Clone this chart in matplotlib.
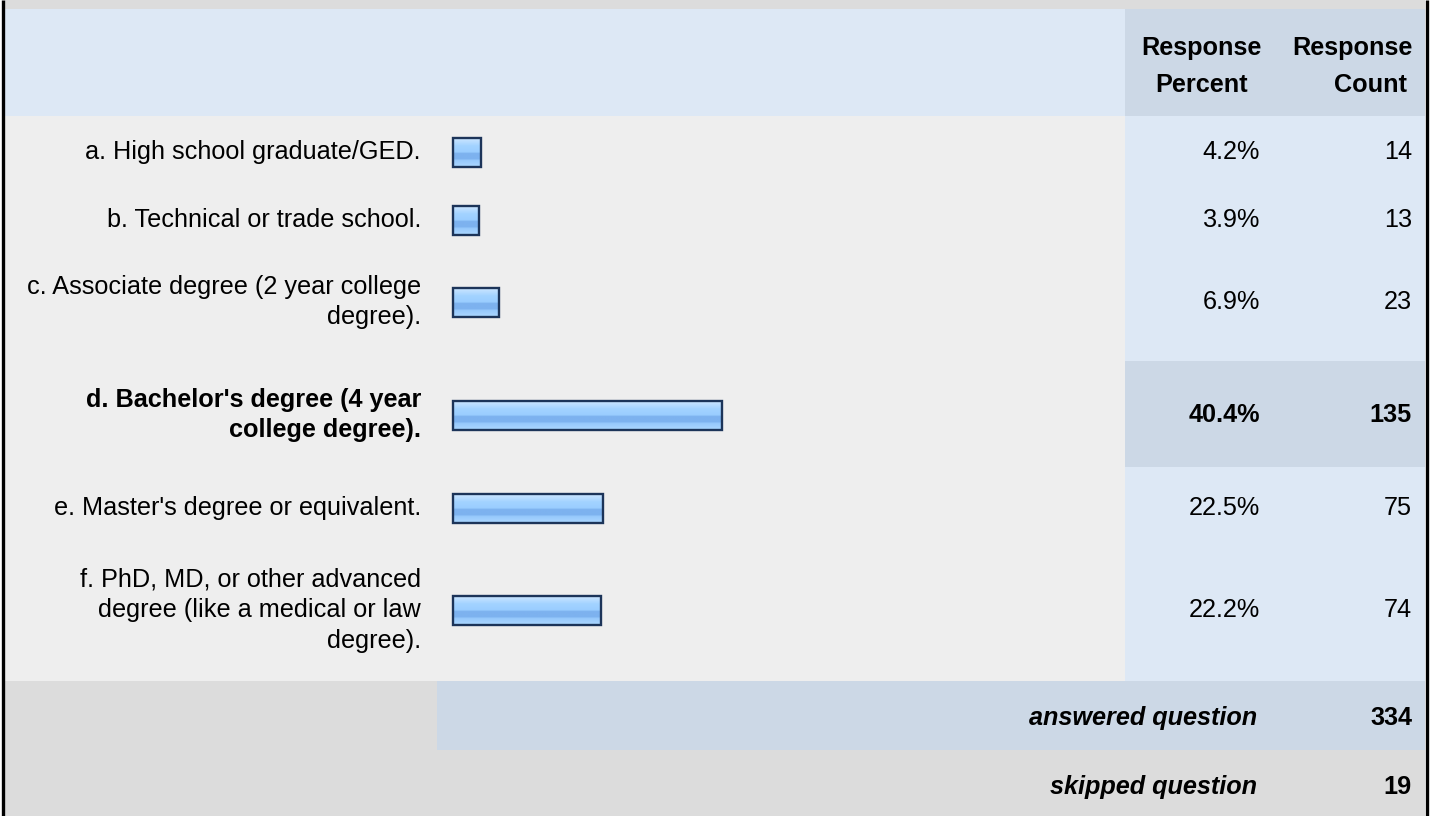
import numpy as np
import matplotlib
matplotlib.use('Agg')
import matplotlib.pyplot as plt
from matplotlib.patches import Rectangle
from matplotlib.colors import LinearSegmentedColormap

plt.rcParams['font.family'] = ['Liberation Sans', 'DejaVu Sans']

# --- data ---
labels = [
    "a. High school graduate/GED.",
    "b. Technical or trade school.",
    "c. Associate degree (2 year college\ndegree).",
    "d. Bachelor's degree (4 year\ncollege degree).",
    "e. Master's degree or equivalent.",
    "f. PhD, MD, or other advanced\ndegree (like a medical or law\ndegree).",
]
percents = [4.2, 3.9, 6.9, 40.4, 22.5, 22.2]
counts = [14, 13, 23, 135, 75, 74]
answered = 334
skipped = 19
header_cols = [("Response", "Percent"), ("Response", "Count")]

# --- layout (pixels) ---
W, H = 1433, 816
row_edges = [116, 184, 252, 361, 467, 545, 681]
text_y = [152, 220, 302, 415, 508, 610]
top_idx = int(np.argmax(percents))

GREY = '#dcdcdc'
LIGHT = '#eeeeee'
BLUE = '#dde8f5'
BLUE_D = '#ccd8e6'
FS = 18.2

fig = plt.figure(figsize=(W / 100, H / 100), dpi=100)
fig.patch.set_facecolor('white')
ax = fig.add_axes([0, 0, 1, 1])
ax.set_xlim(0, W)
ax.set_ylim(H, 0)
ax.axis('off')

def box(x0, y0, x1, y1, c):
    ax.add_patch(Rectangle((x0, y0), x1 - x0, y1 - y0, facecolor=c, edgecolor='none', zorder=1))

L, R, C = 5, 1425, 1125
box(L, 0, R, 9, GREY)
box(L, 9, R, 116, BLUE)
box(C, 9, R, 116, BLUE_D)
box(L, 116, C, 681, LIGHT)
box(C, 116, R, 681, BLUE)
box(C, row_edges[top_idx], R, row_edges[top_idx + 1], BLUE_D)
box(L, 681, R, 816, GREY)
box(437, 681, R, 750, BLUE_D)

# borders
ax.plot([3, 3], [0, H], color='black', lw=2.4, zorder=5, solid_capstyle='butt')
ax.plot([1427.5, 1427.5], [0, H], color='black', lw=2.4, zorder=5, solid_capstyle='butt')

# header
ax.text(1201, 48, header_cols[0][0], ha='center', va='center', fontsize=FS, fontweight='bold')
ax.text(1202, 85, header_cols[0][1], ha='center', va='center', fontsize=FS, fontweight='bold')
ax.text(1352, 48, header_cols[1][0], ha='center', va='center', fontsize=FS, fontweight='bold')
ax.text(1371, 85, header_cols[1][1], ha='center', va='center', fontsize=FS, fontweight='bold')

# bar gradient
grad = LinearSegmentedColormap.from_list('bar', [
    (0.0, '#d2e9ff'), (0.12, '#bfe0ff'), (0.3, '#a3d3ff'), (0.52, '#9acdff'),
    (0.56, '#7db2ef'), (0.76, '#7db2ef'), (0.8, '#95c8fc'), (1.0, '#a9d5ff')])
g = np.linspace(0, 1, 60).reshape(-1, 1)

BAR_X0 = 453
PX_PER_PCT = 6.66
BAR_H = 29

for i, (lab, p, n) in enumerate(zip(labels, percents, counts)):
    y = text_y[i]
    w = 'bold' if i == top_idx else 'normal'
    ax.text(421, y, lab, ha='right', va='center', fontsize=FS, fontweight=w,
            linespacing=1.36)
    ax.text(1260, y, f"{p:.1f}%", ha='right', va='center', fontsize=FS, fontweight=w)
    ax.text(1412, y, f"{n}", ha='right', va='center', fontsize=FS, fontweight=w)
    bw = p * PX_PER_PCT
    yc = y
    y0, y1 = yc - BAR_H / 2, yc + BAR_H / 2
    ax.imshow(g, cmap=grad, extent=(BAR_X0, BAR_X0 + bw, y1, y0), origin='upper',
              aspect='auto', zorder=3, interpolation='bilinear')
    ax.add_patch(Rectangle((BAR_X0, y0), bw, BAR_H, facecolor='none',
                           edgecolor='#1c3459', lw=1.7, zorder=4))

ax.set_xlim(0, W)
ax.set_ylim(H, 0)

ax.text(1257, 718, "answered question", ha='right', va='center', fontsize=FS,
        fontweight='bold', style='italic')
ax.text(1412, 718, f"{answered}", ha='right', va='center', fontsize=FS, fontweight='bold')
ax.text(1257, 787, "skipped question", ha='right', va='center', fontsize=FS,
        fontweight='bold', style='italic')
ax.text(1412, 787, f"{skipped}", ha='right', va='center', fontsize=FS, fontweight='bold')

fig.savefig('out.png', dpi=100)
